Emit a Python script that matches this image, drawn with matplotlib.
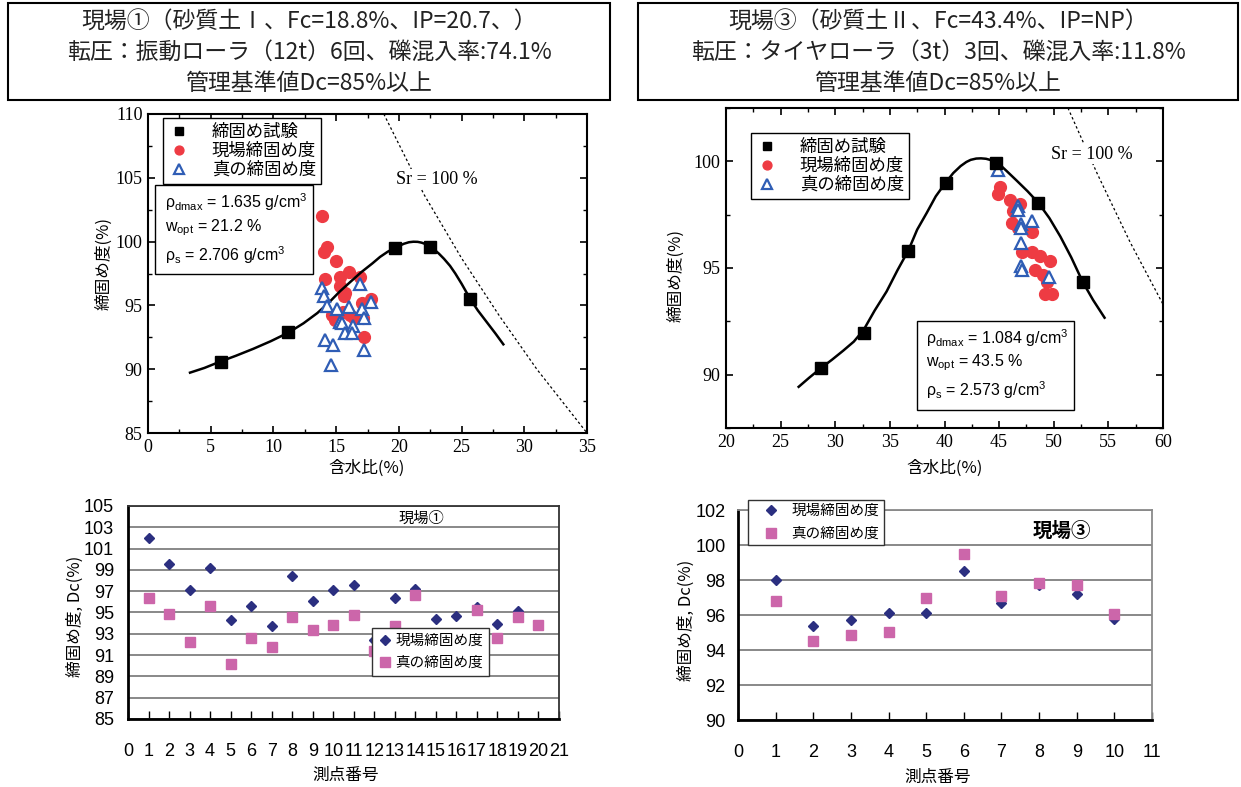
import matplotlib
matplotlib.use('Agg')
import matplotlib.pyplot as plt
from matplotlib.patches import Rectangle
from matplotlib.ticker import MultipleLocator

plt.rcParams['font.family'] = ['Noto Sans CJK JP', 'DejaVu Sans']
plt.rcParams['mathtext.fontset'] = 'custom'
plt.rcParams['mathtext.rm'] = 'Liberation Sans'
plt.rcParams['mathtext.it'] = 'Liberation Sans:italic'

# ---- 現場① 締固め曲線 ----
w1_test = [5.8, 11.2, 19.7, 22.5, 25.7]
dc1_test = [90.6, 92.9, 99.5, 99.6, 95.5]
w1_curve = [3.35, 4.5, 5.74, 7.0, 8.4, 9.8, 11.24, 12.4, 13.5, 14.4, 15.3, 16.2,
            17.0, 17.9, 18.5, 19.1, 19.7, 20.4, 20.8, 21.16, 21.5, 21.8, 22.15, 22.49,
            22.85, 23.2, 23.6, 24.08, 24.5, 25.0, 25.68, 26.3, 27.0, 27.7, 28.33]
dc1_curve = [89.73, 90.1, 90.59, 91.05, 91.6, 92.2, 92.89, 93.6, 94.4, 95.2, 96.1, 96.9,
             97.6, 98.3, 98.8, 99.2, 99.52, 99.83, 99.95, 99.99, 99.98, 99.92, 99.8, 99.6,
             99.35, 99.05, 98.65, 98.1, 97.5, 96.7, 95.52, 94.6, 93.7, 92.8, 91.95]
w1_sr = [18.8, 22.0, 25.0, 28.0, 31.0, 35.0]
dc1_sr = [110.0, 103.7, 98.7, 94.2, 90.0, 85.0]
w1_field = [13.85, 14.25, 14.05, 15.0, 14.1, 15.3, 16.05, 16.9, 15.3, 15.7, 15.6, 17.75,
            17.05, 14.65, 14.9, 16.1, 16.4, 17.15, 17.2, 15.55]
dc1_field = [102.0, 99.6, 99.2, 98.5, 97.1, 97.25, 97.6, 97.25, 96.5, 96.0, 95.7, 95.5,
             95.15, 94.25, 93.85, 94.25, 94.0, 94.0, 92.55, 94.5]
w1_true = [13.85, 14.05, 14.25, 15.05, 16.05, 16.9, 17.05, 17.8, 17.2, 15.3, 15.45, 16.35,
           15.7, 16.3, 14.1, 14.75, 17.2, 14.6]
dc1_true = [96.4, 95.7, 94.95, 94.7, 94.9, 96.7, 94.7, 95.3, 94.0, 93.7, 93.6, 93.35,
            92.8, 92.85, 92.3, 91.9, 91.5, 90.3]

# ---- 現場③ 締固め曲線 ----
w3_test = [28.7, 32.6, 36.7, 40.1, 44.7, 48.6, 52.65]
dc3_test = [90.3, 91.97, 95.82, 99.0, 99.94, 98.05, 94.35]
w3_curve = [26.65, 27.6, 28.67, 29.7, 30.74, 31.7, 32.6, 33.6, 34.7, 35.7, 36.69, 37.5,
            38.37, 39.2, 40.1, 40.8, 41.48, 42.0, 42.4, 42.9, 43.34, 43.8, 44.3, 44.74,
            45.2, 45.7, 46.6, 47.6, 48.6, 49.6, 50.6, 51.6, 52.65, 53.6, 54.65]
dc3_curve = [89.43, 89.85, 90.3, 90.7, 91.13, 91.55, 92.1, 93.0, 93.9, 94.9, 95.82, 96.8,
             97.58, 98.36, 99.0, 99.45, 99.78, 99.97, 100.07, 100.13, 100.14, 100.12, 100.05,
             99.94, 99.78, 99.54, 99.1, 98.6, 98.05, 97.34, 96.48, 95.5, 94.35, 93.5, 92.67]
w3_sr = [51.3, 54.0, 57.0, 60.0]
dc3_sr = [102.5, 99.4, 96.2, 93.3]
w3_field = [45.08, 44.87, 45.99, 46.9, 46.3, 46.15, 46.76, 47.98, 47.06, 47.98, 48.74,
            49.66, 48.28, 49.05, 49.36, 49.2, 49.8]
dc3_field = [98.8, 98.49, 98.2, 98.0, 97.66, 97.1, 96.87, 96.71, 95.77, 95.77, 95.58,
             95.34, 94.9, 94.67, 94.35, 93.8, 93.8]
w3_true = [44.92, 46.76, 46.76, 47.0, 46.97, 48.04, 47.0, 47.0, 47.06, 49.6]
dc3_true = [99.59, 97.92, 97.73, 97.08, 96.87, 97.19, 96.16, 95.1, 94.9, 94.56]

# ---- 測点別 締固め度 ----
pt1 = list(range(1, 21))
dc1_pt_field = [102.0, 99.6, 97.1, 99.15, 94.25, 95.65, 93.7, 98.45, 96.05, 97.15,
                97.55, 92.4, 96.35, 97.2, 94.4, 94.7, 95.5, 93.9, 95.1, 93.85]
dc1_pt_true = [96.35, 94.85, 92.2, 95.65, 90.2, 92.65, 91.8, 94.6, 93.4, 93.85,
               94.8, 91.4, 93.7, 96.65, 92.9, 93.0, 95.2, 92.65, 94.6, 93.85]
pt3 = list(range(1, 11))
dc3_pt_field = [98.0, 95.4, 95.7, 96.1, 96.1, 98.5, 96.7, 97.7, 97.2, 95.8]
dc3_pt_true = [96.8, 94.5, 94.85, 95.05, 97.0, 99.5, 97.1, 97.85, 97.7, 96.05]

title1 = ['現場①（砂質土Ⅰ、Fc=18.8%、IP=20.7、）',
          '転圧：振動ローラ（12t）6回、礫混入率:74.1%',
          '管理基準値Dc=85%以上']
title3 = ['現場③（砂質土Ⅱ、Fc=43.4%、IP=NP）',
          '転圧：タイヤローラ（3t）3回、礫混入率:11.8%',
          '管理基準値Dc=85%以上']

W, H = 1241, 787
fig = plt.figure(figsize=(W / 100, H / 100), dpi=100)


def fbox(x0, y0, x1, y1):
    return [x0 / W, 1 - y1 / H, (x1 - x0) / W, (y1 - y0) / H]


red = '#EE3B43'
blue = '#2F5DB5'
serif = 'Liberation Serif'
sans = 'Liberation Sans'

# title boxes
for (x0, x1), lines in [((8, 610), title1), ((638, 1238), title3)]:
    fig.patches.append(Rectangle((x0 / W, 1 - 100 / H), (x1 - x0) / W, 97 / H,
                                 transform=fig.transFigure, fill=False,
                                 edgecolor='black', lw=1.5))
    for yy, s in zip([22, 52, 83], lines):
        fig.text((x0 + x1) / 2 / W, 1 - yy / H, s, ha='center', va='center',
                 fontsize=16.5, color='#222222')


def top_axes(ax, xlim, ylim):
    ax.set_xlim(*xlim)
    ax.set_ylim(*ylim)
    ax.xaxis.set_major_locator(MultipleLocator(5))
    ax.xaxis.set_minor_locator(MultipleLocator(2.5))
    ax.yaxis.set_major_locator(MultipleLocator(5))
    ax.yaxis.set_minor_locator(MultipleLocator(2.5))
    ax.tick_params(which='both', direction='in', top=True, right=True)
    ax.tick_params(which='major', length=5, width=1.2, pad=4)
    ax.tick_params(which='minor', length=3, width=1.0)
    for lab in ax.get_xticklabels() + ax.get_yticklabels():
        lab.set_fontfamily(serif)
        lab.set_fontsize(13)
    for sp in ax.spines.values():
        sp.set_linewidth(1.5)


def param_box(ax, x0, y0, w, h, xs, ys, vals):
    ax.add_patch(Rectangle((x0, y0), w, h, transform=ax.transAxes, fill=False,
                           edgecolor='black', lw=1.0, zorder=6))
    texts = [r'ρ$_{\rm dmax}$ = %s g/cm$^{\rm 3}$' % vals[0],
             r'w$_{\rm opt}$ = %s %%' % vals[1],
             r'ρ$_{\rm s}$ = %s g/cm$^{\rm 3}$' % vals[2]]
    for yy, s in zip(ys, texts):
        ax.text(xs, yy, s, transform=ax.transAxes, ha='left', va='center',
                fontsize=11.5, family=sans, zorder=7)


def top_legend(ax, x, y):
    leg = ax.legend(loc='upper left', bbox_to_anchor=(x, y), borderaxespad=0,
                    fontsize=12.5, frameon=True, fancybox=False, edgecolor='black',
                    framealpha=1, handlelength=1.2, handletextpad=1.3,
                    labelspacing=0.05, borderpad=0.3, markerscale=0.75)
    leg.get_frame().set_linewidth(1.0)
    leg.set_zorder(8)


# ---- 上段左 ----
ax1 = fig.add_axes(fbox(148, 114, 587, 433))
ax1.plot(w1_sr, dc1_sr, color='black', lw=0.9, ls=(0, (2, 2)), zorder=1)
ax1.plot(w1_test, dc1_test, 's', color='black', ms=8, label='締固め試験', zorder=5)
ax1.plot(w1_field, dc1_field, 'o', color=red, ms=8.5, label='現場締固め度', zorder=2)
ax1.plot(w1_curve, dc1_curve, color='black', lw=1.8, zorder=3)
ax1.plot(w1_true, dc1_true, '^', mfc='white', mec=blue, mew=1.6, ms=9,
         label='真の締固め度', zorder=4)
top_axes(ax1, (0, 35), (85, 110))
ax1.text(23.05, 104.9, 'Sr = 100 %', family=serif, fontsize=13, ha='center',
         va='center', bbox=dict(facecolor='white', edgecolor='none', pad=1), zorder=2)
top_legend(ax1, 0.034, 0.987)
param_box(ax1, 0.016, 0.498, 0.36, 0.279, 0.038, [0.724, 0.643, 0.558],
          ['1.635', '21.2', '2.706'])

# ---- 上段右 ----
ax3 = fig.add_axes(fbox(726, 108, 1163, 428))
ax3.plot(w3_sr, dc3_sr, color='black', lw=0.9, ls=(0, (2, 2)), zorder=1)
ax3.plot(w3_test, dc3_test, 's', color='black', ms=8, label='締固め試験', zorder=5)
ax3.plot(w3_field, dc3_field, 'o', color=red, ms=8.5, label='現場締固め度', zorder=2)
ax3.plot(w3_curve, dc3_curve, color='black', lw=1.8, zorder=3)
ax3.plot(w3_true, dc3_true, '^', mfc='white', mec=blue, mew=1.6, ms=9,
         label='真の締固め度', zorder=4)
top_axes(ax3, (20, 60), (87.5, 102.5))
ax3.set_yticks([90, 95, 100])
ax3.text(53.5, 100.33, 'Sr = 100 %', family=serif, fontsize=13, ha='center',
         va='center', bbox=dict(facecolor='white', edgecolor='none', pad=1), zorder=2)
top_legend(ax3, 0.057, 0.922)
param_box(ax3, 0.437, 0.056, 0.359, 0.278, 0.458, [0.281, 0.203, 0.119],
          ['1.084', '43.5', '2.573'])

for (x, y) in [(367, 468), (945, 468)]:
    fig.text(x / W, 1 - y / H, '含水比(%)', ha='center', va='center', fontsize=12)
for (x, y) in [(104, 263), (676, 275)]:
    fig.text(x / W, 1 - y / H, '締固め度(%)', ha='center', va='center', fontsize=12,
             rotation=90)

# ---- 下段 ----
navy = '#2B2F80'
pink = '#CC66AA'


def bottom_axes(ax, xmax, ylim, ystep, spine_col, ypad):
    ax.set_xlim(0, xmax)
    ax.set_ylim(*ylim)
    ax.set_xticks(range(0, xmax + 1))
    ax.set_yticks(range(ylim[0], ylim[1] + 1, ystep))
    ax.grid(axis='y', color='#7f7f7f', lw=1.3)
    ax.set_axisbelow(True)
    ax.tick_params(axis='x', direction='in', length=6, width=1.0, pad=17,
                   labelsize=13)
    ax.tick_params(axis='y', length=0, pad=ypad, labelsize=13)
    for lab in ax.get_xticklabels() + ax.get_yticklabels():
        lab.set_fontfamily(sans)
    ax.spines['left'].set_linewidth(2)
    ax.spines['bottom'].set_linewidth(2)
    for s in ['top', 'right']:
        ax.spines[s].set_color(spine_col)
        ax.spines[s].set_linewidth(1.3)


ax5 = fig.add_axes(fbox(128, 506, 559, 719))
ax5.plot(pt1, dc1_pt_field, 'D', color=navy, ms=5.5, label='現場締固め度', zorder=3)
ax5.plot(pt1, dc1_pt_true, 's', color=pink, ms=7.5, label='真の締固め度', zorder=4)
bottom_axes(ax5, 21, (85, 105), 2, '#333333', 10)
fig.text(421 / W, 1 - 518 / H, '現場①', fontsize=11, ha='center', va='center')
leg5 = ax5.legend(loc='upper left', bbox_to_anchor=(0.566, 0.427), borderaxespad=0,
                  fontsize=10.5, fancybox=False, edgecolor='#333333', framealpha=1,
                  handlelength=1.0, handletextpad=0.2, labelspacing=0.55,
                  borderpad=0.4)
leg5.set_zorder(8)

ax6 = fig.add_axes(fbox(738, 510, 1152, 720))
ax6.plot(pt3, dc3_pt_field, 'D', color=navy, ms=5.5, label='現場締固め度', zorder=3)
ax6.plot(pt3, dc3_pt_true, 's', color=pink, ms=7.5, label='真の締固め度', zorder=4)
bottom_axes(ax6, 11, (90, 102), 2, '#8a8a8a', 9)
fig.text(1062 / W, 1 - 531 / H, '現場③', fontsize=14, ha='center', va='center',
         fontweight='bold')
leg6 = ax6.legend(loc='upper left', bbox_to_anchor=(0.024, 1.048), borderaxespad=0,
                  fontsize=10.5, fancybox=False, edgecolor='#333333', framealpha=1,
                  handlelength=2.6, handletextpad=0.1, labelspacing=0.6,
                  borderpad=0.3)
leg6.set_zorder(8)

for (x, y) in [(75, 616), (686, 620)]:
    fig.text(x / W, 1 - y / H, '締固め度, Dc(%)', ha='center', va='center',
             fontsize=12, rotation=90)
for (x, y) in [(346, 775), (938, 777)]:
    fig.text(x / W, 1 - y / H, '測点番号', ha='center', va='center', fontsize=12)

fig.savefig('out.png', dpi=100)
